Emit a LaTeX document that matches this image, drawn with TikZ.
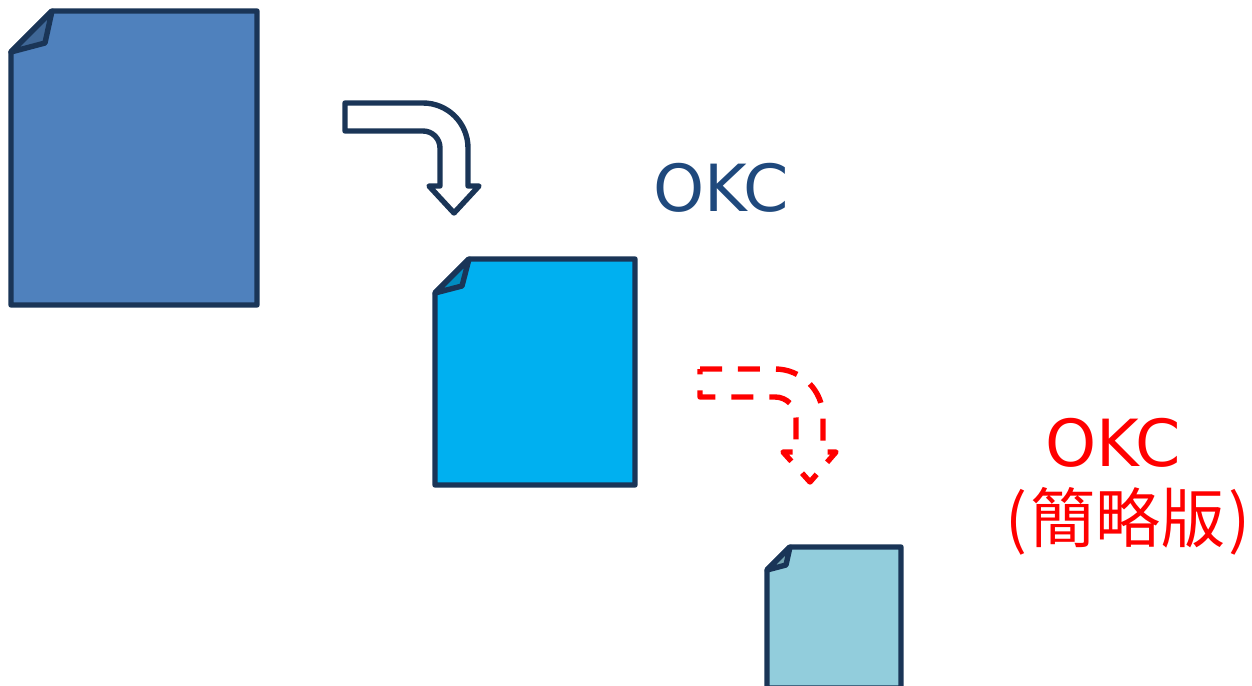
\documentclass[tikz,border=0pt]{standalone}
\usepackage{fontspec}
\setmainfont{DejaVu Sans}
\newfontfamily\cjkfont{Noto Sans CJK TC}

\definecolor{sheetline}{HTML}{1A3557}
\definecolor{sheetone}{HTML}{4F81BD}
\definecolor{sheettwo}{HTML}{00B0F0}
\definecolor{sheetthree}{HTML}{92CDDC}
\definecolor{okcblue}{HTML}{1F497D}

\tikzset{
    sheet/.style={draw=sheetline, line width=0.108cm, line join=round, fill=#1},
    flap/.style={draw=sheetline, line width=0.108cm, line join=round, fill=#1!80!black},
    bigtext/.style={anchor=base, inner sep=0pt, font=\fontsize{37}{40}\selectfont}
}

\begin{document}
\begin{tikzpicture}[x=0.02cm, y=-0.02cm]
    \useasboundingbox (0,0) rectangle (1252,686);

    % Large sheet
    \draw[sheet=sheetone] (11,52) -- (52,11) -- (257,11) -- (257,305) -- (11,305) -- cycle;
    \draw[flap=sheetone] (11,52) -- (45,43) -- (52,11) -- cycle;

    % Middle sheet
    \draw[sheet=sheettwo] (435,293) -- (469,259) -- (635,259) -- (635,485) -- (435,485) -- cycle;
    \draw[flap=sheettwo] (435,293) -- (462,286) -- (469,259) -- cycle;

    % Small sheet (runs off the bottom edge)
    \draw[sheet=sheetthree] (767,570) -- (790,547) -- (901,547) -- (901,688) -- (767,688) -- cycle;
    \draw[flap=sheetthree] (767,570) -- (786,565) -- (790,547) -- cycle;

    % Solid bent arrow
    \draw[sheet=white] (345,103) -- (423,103) arc[start angle=270, end angle=360, radius=45]
        -- (468,186) -- (479,186) -- (454,213) -- (429,186) -- (440,186) -- (440,148)
        arc[start angle=0, end angle=-90, radius=17] -- (345,131) -- cycle;

    % Dashed bent arrow
    \draw[red, line width=0.108cm, line join=round, dash pattern=on 0.44cm off 0.32cm]
        (700,369) -- (775,369) arc[start angle=270, end angle=360, radius=48]
        -- (823,452) -- (836,452) -- (810,482) -- (783,452) -- (796,452) -- (796,418)
        arc[start angle=0, end angle=-90, radius=21] -- (700,397) -- cycle;

    % Labels
    \node[bigtext, text=okcblue] (okcfull) at (721,212) {OKC};
    \node[bigtext, text=red] (okcbrief) at (1113,466) {OKC};
    \node[bigtext, text=red] (okcnote) at (1128,542) {\cjkfont (\kern1.5pt 簡略版\kern1.5pt )};
\end{tikzpicture}
\end{document}
